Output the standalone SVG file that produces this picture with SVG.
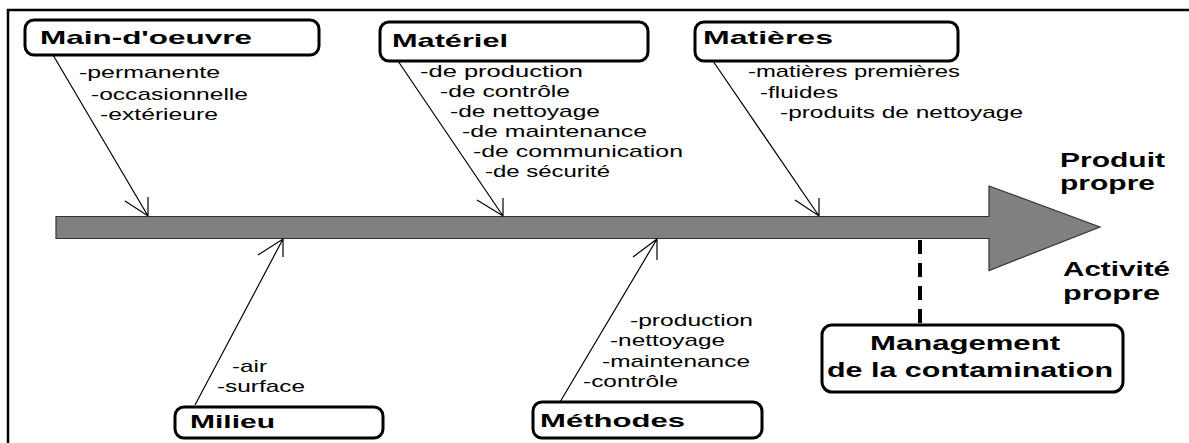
<svg xmlns="http://www.w3.org/2000/svg" width="1189" height="443" viewBox="0 0 1189 443">
  <style>
    .frame { stroke: #000; stroke-width: 2.5; fill: none; }
    .box { fill: #fff; stroke: #000; stroke-width: 3; }
    .title { font-family: "Liberation Sans", Arial, sans-serif; font-weight: bold; font-size: 19px; fill: #000; }
    .big { font-family: "Liberation Sans", Arial, sans-serif; font-weight: bold; font-size: 21px; fill: #000; }
    .item { font-family: "Liberation Sans", Arial, sans-serif; font-size: 17px; fill: #000; }
    .bone { stroke: #000; stroke-width: 1.2; fill: none; }
    .spine { fill: #808080; stroke: #333; stroke-width: 1.2; }
  </style>

  <!-- outer frame: top and left edges -->
  <path class="frame" d="M8,443 V10 H1189"/>

  <!-- main spine arrow -->
  <g id="spine">
    <path class="spine" d="M56,216.5 H989 V186 L1100,227 L989,270.5 V238.5 H56 Z"/>
  </g>

  <!-- connectors: branches into the spine and the dashed link -->
  <g id="connectors">
    <path class="bone" d="M53,55 L148,216 M148,197 V216 L125,201"/>
    <path class="bone" d="M398,61 L503,216 M503,198 V216 L477,200"/>
    <path class="bone" d="M713,61 L819,216 M819,198 V216 L795,200"/>
    <path class="bone" d="M195,405 L283,239 M283,257 V239 L258,255"/>
    <path class="bone" d="M560,402 L657,239 M657,260 V239 L633,257"/>
    <line x1="920" y1="240" x2="920" y2="323" stroke="#000" stroke-width="4" stroke-dasharray="14 9"/>
  </g>

  <g id="main-oeuvre">
    <rect class="box" x="25" y="20" width="294" height="35" rx="9"/>
    <text class="title" x="40" y="44" textLength="212" lengthAdjust="spacingAndGlyphs">Main-d'oeuvre</text>
    <text class="item" x="79" y="78" textLength="141" lengthAdjust="spacingAndGlyphs">-permanente</text>
    <text class="item" x="91" y="100" textLength="157" lengthAdjust="spacingAndGlyphs">-occasionnelle</text>
    <text class="item" x="100" y="120" textLength="118" lengthAdjust="spacingAndGlyphs">-extérieure</text>
  </g>

  <g id="materiel">
    <rect class="box" x="380" y="22" width="268" height="39" rx="9"/>
    <text class="title" x="392" y="47" textLength="116" lengthAdjust="spacingAndGlyphs">Matériel</text>
    <text class="item" x="420" y="77" textLength="163" lengthAdjust="spacingAndGlyphs">-de production</text>
    <text class="item" x="440" y="97" textLength="130" lengthAdjust="spacingAndGlyphs">-de contrôle</text>
    <text class="item" x="450" y="117" textLength="150" lengthAdjust="spacingAndGlyphs">-de nettoyage</text>
    <text class="item" x="462" y="137" textLength="185" lengthAdjust="spacingAndGlyphs">-de maintenance</text>
    <text class="item" x="473" y="157" textLength="210" lengthAdjust="spacingAndGlyphs">-de communication</text>
    <text class="item" x="485" y="177" textLength="125" lengthAdjust="spacingAndGlyphs">-de sécurité</text>
  </g>

  <g id="matieres">
    <rect class="box" x="695" y="22" width="263" height="39" rx="9"/>
    <text class="title" x="703" y="44" textLength="130" lengthAdjust="spacingAndGlyphs">Matières</text>
    <text class="item" x="748" y="77" textLength="212" lengthAdjust="spacingAndGlyphs">-matières premières</text>
    <text class="item" x="760" y="98" textLength="78" lengthAdjust="spacingAndGlyphs">-fluides</text>
    <text class="item" x="780" y="118" textLength="243" lengthAdjust="spacingAndGlyphs">-produits de nettoyage</text>
  </g>

  <g id="milieu">
    <rect class="box" x="175" y="407" width="208" height="31" rx="9"/>
    <text class="title" x="190" y="428" textLength="85" lengthAdjust="spacingAndGlyphs">Milieu</text>
    <text class="item" x="232" y="372" textLength="35" lengthAdjust="spacingAndGlyphs">-air</text>
    <text class="item" x="217" y="392" textLength="88" lengthAdjust="spacingAndGlyphs">-surface</text>
  </g>

  <g id="methodes">
    <rect class="box" x="533" y="402" width="229" height="36" rx="9"/>
    <text class="title" x="540" y="427" textLength="145" lengthAdjust="spacingAndGlyphs">Méthodes</text>
    <text class="item" x="630" y="326" textLength="123" lengthAdjust="spacingAndGlyphs">-production</text>
    <text class="item" x="610" y="346" textLength="115" lengthAdjust="spacingAndGlyphs">-nettoyage</text>
    <text class="item" x="602" y="367" textLength="148" lengthAdjust="spacingAndGlyphs">-maintenance</text>
    <text class="item" x="583" y="387" textLength="95" lengthAdjust="spacingAndGlyphs">-contrôle</text>
  </g>

  <g id="management">
    <rect class="box" x="822" y="325" width="301" height="67" rx="10"/>
    <text class="big" x="870" y="350" textLength="190" lengthAdjust="spacingAndGlyphs">Management</text>
    <text class="big" x="827" y="377" textLength="286" lengthAdjust="spacingAndGlyphs">de la contamination</text>
  </g>

  <g id="produit">
    <text class="big" x="1060" y="167" textLength="105" lengthAdjust="spacingAndGlyphs">Produit</text>
    <text class="big" x="1060" y="190" textLength="95" lengthAdjust="spacingAndGlyphs">propre</text>
  </g>

  <g id="activite">
    <text class="big" x="1063" y="276" textLength="107" lengthAdjust="spacingAndGlyphs">Activité</text>
    <text class="big" x="1063" y="300" textLength="97" lengthAdjust="spacingAndGlyphs">propre</text>
  </g>
</svg>
